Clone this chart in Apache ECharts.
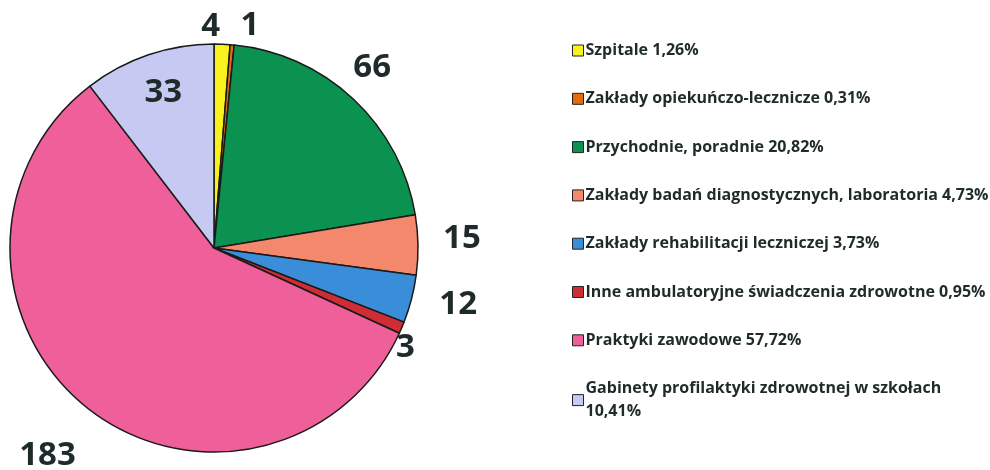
<!DOCTYPE html>
<html>
<head>
<meta charset="utf-8">
<script src="https://cdn.jsdelivr.net/npm/echarts@6/dist/echarts.min.js"></script>
<style>
    html, body { margin: 0; padding: 0; background: #fff; }
    #chart { width: 990px; height: 470px; }
</style>
</head>
<body>
<div id="chart"></div>
<script>
    // dane z wykresu
    const names = [
        'Szpitale',
        'Zakłady opiekuńczo-lecznicze',
        'Przychodnie, poradnie',
        'Zakłady badań diagnostycznych, laboratoria',
        'Zakłady rehabilitacji leczniczej',
        'Inne ambulatoryjne świadczenia zdrowotne',
        'Praktyki zawodowe',
        'Gabinety profilaktyki zdrowotnej w szkołach'
    ];
    const counts = [4, 1, 66, 15, 12, 3, 183, 33];
    const shares = ['1,26%', '0,31%', '20,82%', '4,73%', '3,73%', '0,95%', '57,72%', '10,41%'];

    const colors = ['#f7f21e', '#e46c0a', '#0b9150', '#f3886c', '#3a8ed9', '#cf2d36', '#ef5f9a', '#c6c9f1'];
    // odleglosc etykiet od krawedzi kola i drobne przesuniecia
    const labelLen = [18, 19, 36, 39, 43, 6, 58, -40];
    const labelNudge = [[-17, 0], [11, 0], [-11, -5], [0, -6], [0, -5], [-7, 18], [2, 3], [7, 0]];

    const chart = echarts.init(document.getElementById('chart'));

    const option = {
        animation: false,
        color: colors,
        legend: {
            orient: 'vertical',
            left: 567,
            top: 34,
            itemWidth: 11,
            itemHeight: 11,
            itemGap: 25.3,
            icon: 'rect',
            itemStyle: {
                borderColor: '#222',
                borderWidth: 1
            },
            textStyle: {
                fontFamily: 'Open Sans',
                fontWeight: 'bold',
                fontSize: 16,
                lineHeight: 23,
                color: '#1f2a2a',
                padding: [0, 0, 0, -3]
            },
            formatter(name) {
                const i = names.indexOf(name);
                return name.length > 40 && i === names.length - 1
                    ? name + '\n' + shares[i]
                    : name + ' ' + shares[i];
            },
            data: names
        },
        series: [{
            type: 'pie',
            center: [214, 248],
            radius: 204,
            startAngle: 90,
            clockwise: true,
            avoidLabelOverlap: false,
            itemStyle: {
                borderColor: '#1a1a1a',
                borderWidth: 1.5
            },
            label: {
                show: true,
                position: 'outside',
                formatter: '{c}',
                fontFamily: 'Open Sans',
                fontWeight: 'bold',
                fontSize: 33,
                color: '#1f2a2a'
            },
            labelLine: {
                show: false,
                length2: 0
            },
            labelLayout(params) {
                const n = labelNudge[params.dataIndex];
                return { align: 'center', verticalAlign: 'middle', dx: n[0], dy: n[1] };
            },
            emphasis: { disabled: true },
            data: names.map((name, i) => ({
                name,
                value: counts[i],
                labelLine: { show: false, length: labelLen[i], length2: 0 }
            }))
        }]
    };

    chart.setOption(option);
</script>
</body>
</html>
